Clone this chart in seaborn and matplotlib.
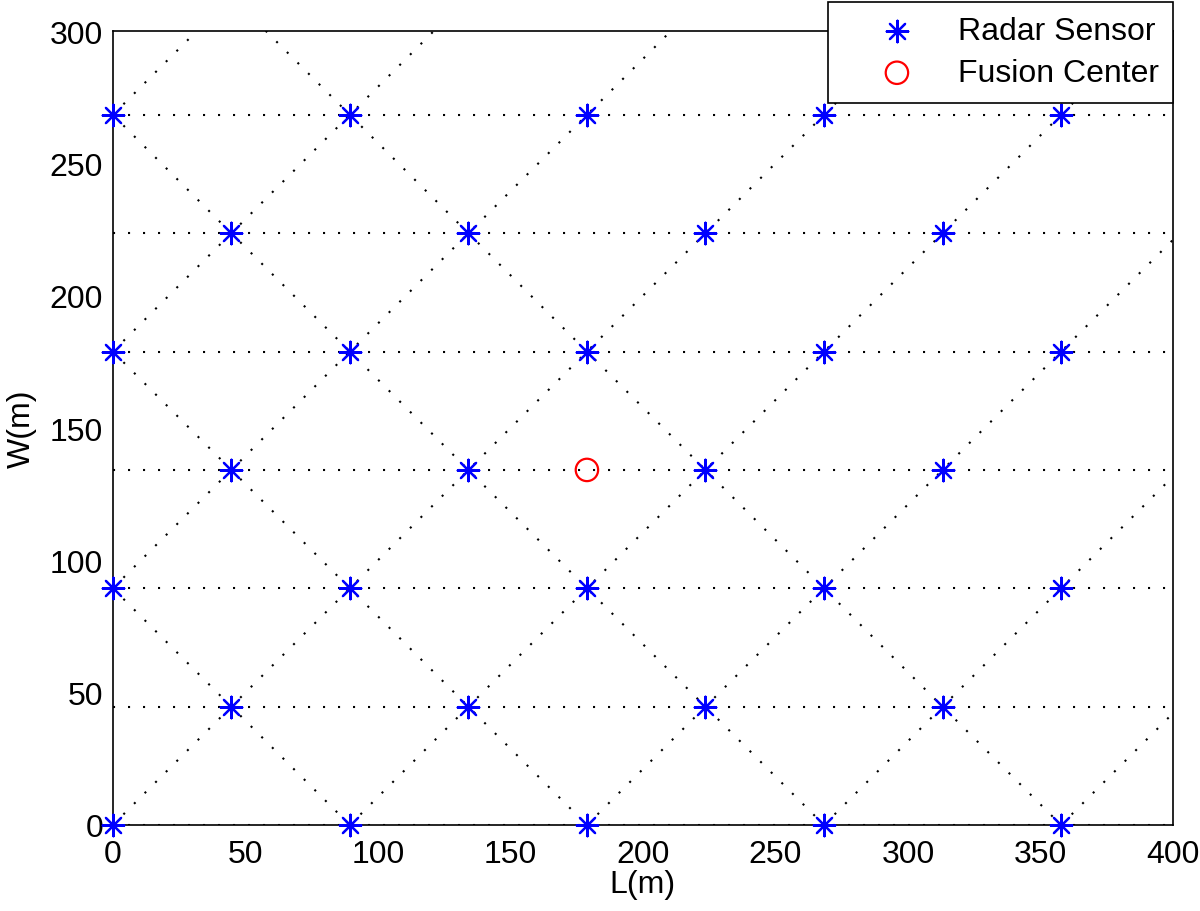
import numpy as np
import pandas as pd
import matplotlib
matplotlib.use("Agg")
import matplotlib.pyplot as plt
import seaborn as sns

# grid spacing of the sensor lattice (m)
d = 44.72

sensor_x = [0, 2, 4, 6, 8,
            1, 3, 5, 7,
            0, 2, 4, 6, 8,
            1, 3, 5, 7,
            0, 2, 4, 6, 8,
            1, 3, 5, 7,
            0, 2, 4, 6, 8]
sensor_y = [0, 0, 0, 0, 0,
            1, 1, 1, 1,
            2, 2, 2, 2, 2,
            3, 3, 3, 3,
            4, 4, 4, 4, 4,
            5, 5, 5, 5,
            6, 6, 6, 6, 6]
fusion_x = [4]
fusion_y = [3]

row_levels = [0, 1, 2, 3, 4, 5, 6]          # horizontal dotted rows
rising_offsets = [-8, -6, -4, -2, 0, 2, 4, 6]  # y - x = k*d
falling_sums = [2, 4, 6, 8]                    # x + y = k*d

sensors = pd.DataFrame({"L": np.array(sensor_x) * d, "W": np.array(sensor_y) * d})
fusion = pd.DataFrame({"L": np.array(fusion_x) * d, "W": np.array(fusion_y) * d})

# dotted guide segments
segs = []
n = 0
for j in row_levels:
    segs += [(n, 0, j * d), (n, 400, j * d)]
    n += 1
for k in rising_offsets:
    x0 = max(0, -k * d)
    y0 = max(0, k * d)
    segs += [(n, x0, y0), (n, x0 + 500, y0 + 500)]
    n += 1
for k in falling_sums:
    segs += [(n, 0, k * d), (n, k * d, 0)]
    n += 1
lines = pd.DataFrame(segs, columns=["seg", "L", "W"])

sns.set_style("white")
plt.rcParams["font.family"] = ["Liberation Sans", "DejaVu Sans"]

fig = plt.figure(figsize=(12, 9.12), dpi=100)
ax = fig.add_axes([0.094, 0.0943, 0.8835, 0.8706])

sns.lineplot(data=lines, x="L", y="W", units="seg", estimator=None, sort=False,
             color="black", linewidth=1.5, linestyle=(0, (1, 6.2)), ax=ax,
             legend=False, zorder=1)
sns.scatterplot(data=sensors, x="L", y="W", marker=(8, 2, 0), s=240,
                color="#0000ff", edgecolor="#0000ff", linewidth=1.6, ax=ax,
                label="Radar Sensor", zorder=3, clip_on=False)
sns.scatterplot(data=fusion, x="L", y="W", marker="o", s=260,
                facecolor="none", edgecolor="#ff0000", linewidth=1.6, ax=ax,
                label="Fusion Center", zorder=3, clip_on=False)

ax.set_xlim(0, 400)
ax.set_ylim(0, 300)
ax.set_xticks(range(0, 401, 50))
ax.set_yticks(range(0, 301, 50))
ax.tick_params(direction="in", length=7, width=1.2, labelsize=23,
               colors="black", labelcolor="black")
ax.tick_params(axis="x", pad=10)
ax.tick_params(axis="y", pad=7)
for sp in ax.spines.values():
    sp.set_visible(True)
    sp.set_color("black")
    sp.set_linewidth(1.2)
ax.set_xlabel("L(m)", fontsize=23, labelpad=0, color="black")
ax.set_ylabel("W(m)", fontsize=23, labelpad=9, color="black")

leg = ax.legend(loc="upper right", bbox_to_anchor=(1.0, 1.037), fontsize=23,
                frameon=True, fancybox=False, framealpha=1, edgecolor="black",
                borderpad=0.45, handletextpad=0.2, labelspacing=0.38,
                handlelength=3.4, borderaxespad=0)
leg.get_frame().set_linewidth(1.2)
for t in leg.get_texts():
    t.set_color("black")

fig.savefig("out.png", dpi=100)
